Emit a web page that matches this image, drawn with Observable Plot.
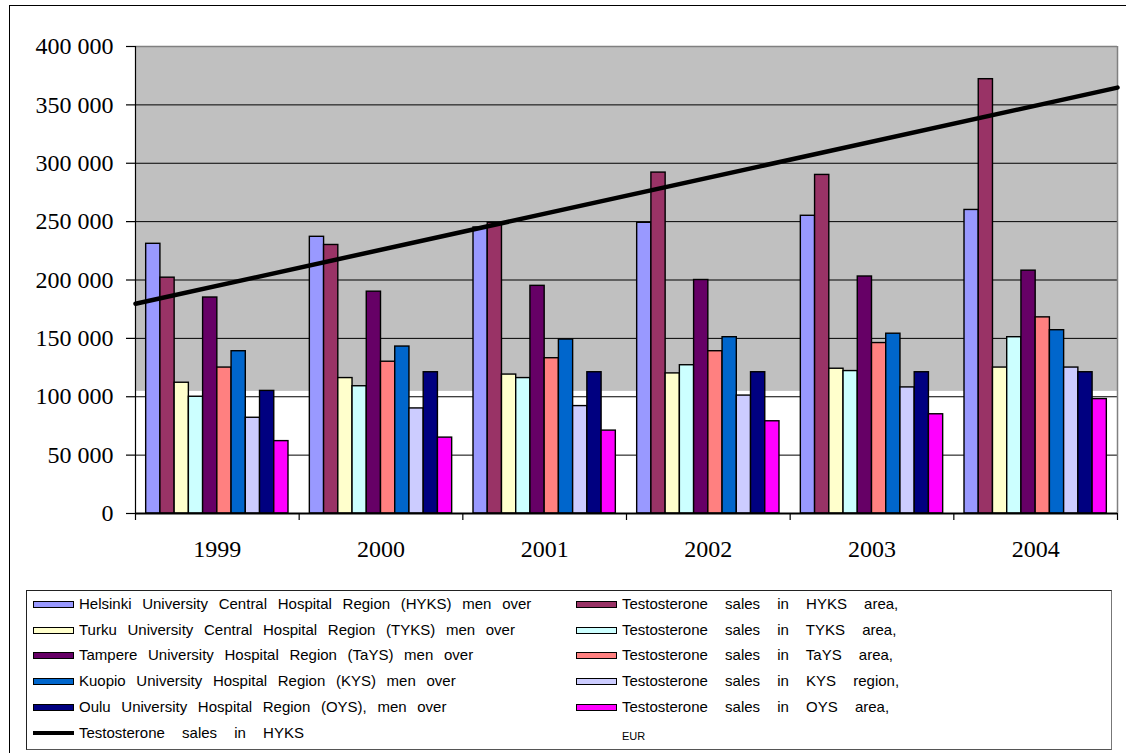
<!DOCTYPE html>
<html>
<head>
<meta charset="utf-8">
<script src="https://cdn.jsdelivr.net/npm/d3@7"></script>
<script src="https://cdn.jsdelivr.net/npm/@observablehq/plot@0.6"></script>
<style>
  html, body { margin: 0; padding: 0; background: #fff; }
  #wrap { position: relative; width: 1126px; height: 753px; overflow: hidden; }
  #outer { position: absolute; left: 9px; top: 5px; width: 1130px; height: 760px; border: 1px solid #000; box-sizing: border-box; pointer-events: none; }
  #chart { position: absolute; left: 0; top: 0; }
  #legend { position: absolute; left: 26px; top: 590px; width: 1086px; height: 160px; border: 1px solid #222; border-right-color: #777; border-bottom-color: #555; box-sizing: border-box; background: #fff;
            font-family: "Liberation Sans", Arial, sans-serif; font-size: 15px; color: #000; }
  .item { position: absolute; height: 18px; line-height: 18px; white-space: nowrap; }
  .sw { position: absolute; top: 6px; width: 39px; height: 5px; border: 1.5px solid #000; }
  .ln { position: absolute; top: 7px; width: 41px; height: 4px; background: #000; }
  .tx { position: absolute; left: 46px; top: 0; word-spacing: 6.5px; }
  .wide { word-spacing: 13px; }
</style>
</head>
<body>
<div id="wrap">
  <div id="chart"></div>
  <div id="legend"></div>
  <div id="outer"></div>
</div>
<script>
// ---- data ----
const years = [1999, 2000, 2001, 2002, 2003, 2004];
const seriesNames = [
  "Helsinki University Central Hospital Region (HYKS) men over",
  "Testosterone sales in HYKS area,",
  "Turku University Central Hospital Region (TYKS) men over",
  "Testosterone sales in TYKS area,",
  "Tampere University Hospital Region (TaYS) men over",
  "Testosterone sales in TaYS area,",
  "Kuopio University Hospital Region (KYS) men over",
  "Testosterone sales in KYS region,",
  "Oulu University Hospital Region (OYS), men over",
  "Testosterone sales in OYS area,"
];
const seriesColors = ["#9999FF", "#993366", "#FFFFCC", "#CCFFFF", "#660066", "#FF8080", "#0066CC", "#CCCCFF", "#000080", "#FF00FF"];

const hyksMen   = [231000, 237000, 245000, 249000, 255000, 260000];
const hyksSales = [202000, 230000, 249000, 292000, 290000, 372000];
const tyksMen   = [112000, 116000, 119000, 120000, 124000, 125000];
const tyksSales = [100000, 109000, 116000, 127000, 122000, 151000];
const taysMen   = [185000, 190000, 195000, 200000, 203000, 208000];
const taysSales = [125000, 130000, 133000, 139000, 146000, 168000];
const kysMen    = [139000, 143000, 149000, 151000, 154000, 157000];
const kysSales  = [82000, 90000, 92000, 101000, 108000, 125000];
const oysMen    = [105000, 121000, 121000, 121000, 121000, 121000];
const oysSales  = [62000, 65000, 71000, 79000, 85000, 98000];

// linear trend of testosterone sales in HYKS, read at the two edges of the plot
const trendX = [1998.5, 2004.5];
const trendValues = [179600, 364800];
const trendLabel = "Testosterone sales in HYKS";
const lastLegendLine = "EUR";

const yTicks = [0, 50000, 100000, 150000, 200000, 250000, 300000, 350000, 400000];
const groupEdges = [1998.5, 1999.5, 2000.5, 2001.5, 2002.5, 2003.5, 2004.5];
const shadedFrom = 104600; // lower edge of grey backdrop

const allSeries = [hyksMen, hyksSales, tyksMen, tyksSales, taysMen, taysSales, kysMen, kysSales, oysMen, oysSales];

// ---- build table (clustered bars, Excel gap width 150%) ----
const nS = allSeries.length;
const steps = nS + 1.5;
const bars = [];
allSeries.forEach((vals, i) => {
  vals.forEach((v, j) => {
    const x1 = years[j] - 0.5 + (0.75 + i) / steps;
    bars.push({series: seriesNames[i], idx: i, year: years[j], x1, x2: x1 + 1 / steps, value: v});
  });
});
const trend = trendX.map((x, k) => ({x, y: trendValues[k]}));

const fmt = d => d3.format(",")(d).replace(/,/g, " ");

const chart = Plot.plot({
  width: 1126,
  height: 575,
  marginLeft: 135,
  marginRight: 9,
  marginTop: 46,
  marginBottom: 62,
  style: {fontFamily: "'Liberation Serif', 'Times New Roman', serif", background: "transparent", overflow: "visible"},
  x: {type: "linear", domain: [1998.5, 2004.5]},
  y: {domain: [0, 400000]},
  color: {type: "ordinal", domain: d3.range(nS), range: seriesColors},
  marks: [
    Plot.rectY([{y1: shadedFrom, y2: 400000}], {x1: () => 1998.5, x2: () => 2004.5, y1: "y1", y2: "y2", fill: "#C0C0C0"}),
    Plot.ruleY(yTicks.filter(d => d > 0 && d < 400000), {stroke: "#000", strokeWidth: 1}),
    Plot.ruleY([400000], {stroke: "#808080", strokeWidth: 1.5}),
    Plot.ruleX([2004.5], {stroke: "#808080", strokeWidth: 1.5}),
    Plot.rectY(bars, {x1: "x1", x2: "x2", y1: 0, y2: "value", fill: d => d.idx, stroke: "#000", strokeWidth: 1.4}),
    Plot.line(trend, {x: "x", y: "y", stroke: "#000", strokeWidth: 4.5}),
    Plot.ruleX([1998.5], {stroke: "#000", strokeWidth: 1.2}),
    Plot.ruleY([0], {stroke: "#000", strokeWidth: 2}),
    Plot.axisY({ticks: yTicks, tickFormat: fmt, tickSize: 9, tickPadding: 13, fontSize: 24, label: null, stroke: "#000", strokeWidth: 1.2}),
    Plot.axisX({ticks: groupEdges, tickFormat: () => "", tickSize: 7, label: null, stroke: "#000", strokeWidth: 1.2}),
    Plot.axisX({ticks: years, tickFormat: d => String(d), tickSize: 0, tickPadding: 26, fontSize: 24, label: null})
  ]
});
document.getElementById("chart").appendChild(chart);

// ---- legend (Excel fills row by row, two columns) ----
const legend = document.getElementById("legend");
const rowTop = k => 4 + k * 25.7;
seriesNames.forEach((name, i) => {
  const row = Math.floor(i / 2), col = i % 2;
  const it = document.createElement("div");
  it.className = "item";
  it.style.left = (col === 0 ? 6 : 549) + "px";
  it.style.top = rowTop(row) + "px";
  const sw = document.createElement("div");
  sw.className = "sw";
  sw.style.background = seriesColors[i];
  const tx = document.createElement("span");
  tx.className = "tx" + (col === 1 ? " wide" : "");
  tx.textContent = name;
  it.appendChild(sw); it.appendChild(tx);
  legend.appendChild(it);
});
{
  const it = document.createElement("div");
  it.className = "item";
  it.style.left = "6px";
  it.style.top = rowTop(5) + "px";
  const ln = document.createElement("div"); ln.className = "ln";
  const tx = document.createElement("span"); tx.className = "tx wide"; tx.textContent = trendLabel;
  it.appendChild(ln); it.appendChild(tx);
  legend.appendChild(it);
  const extra = document.createElement("div");
  extra.className = "item";
  extra.style.left = "595px";
  extra.style.top = (rowTop(5) + 3) + "px";
  extra.style.fontSize = "11px";
  extra.textContent = lastLegendLine;
  legend.appendChild(extra);
}
</script>
</body>
</html>
